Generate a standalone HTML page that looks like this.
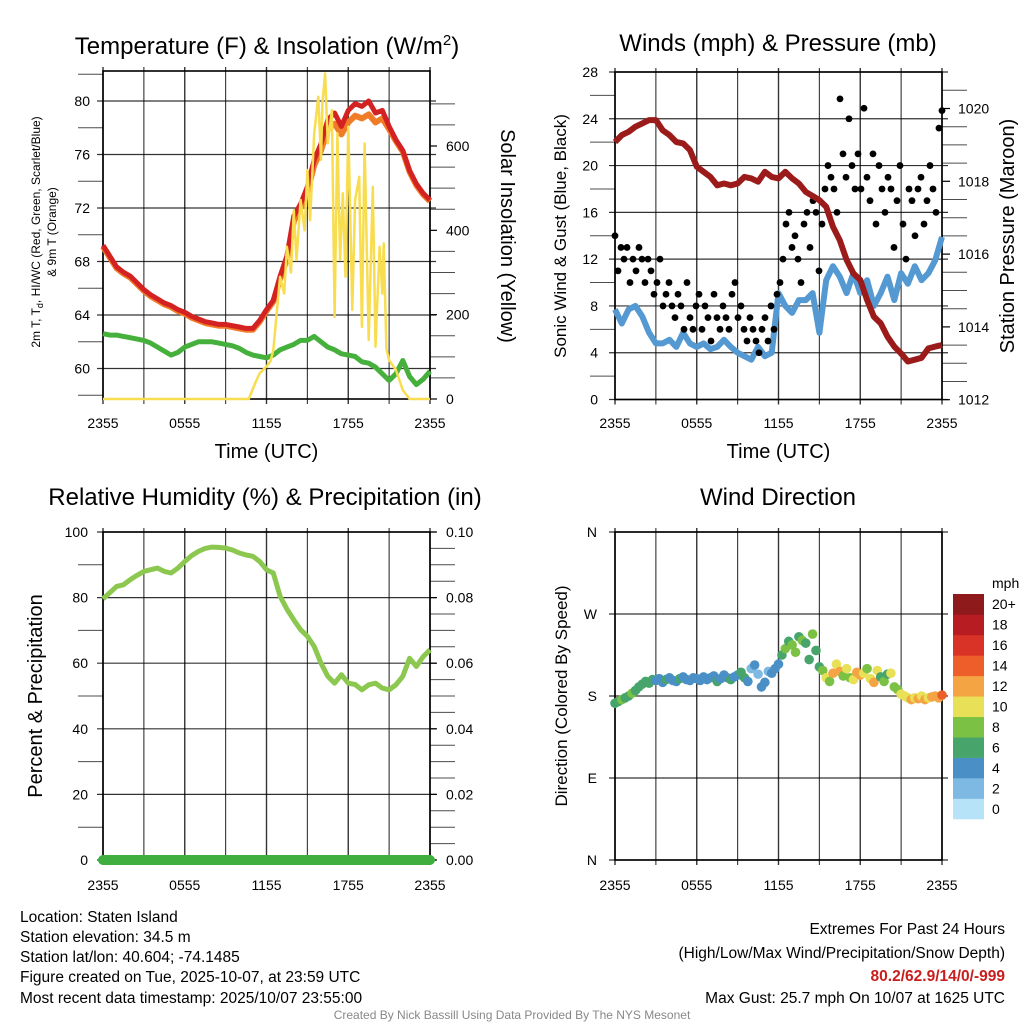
<!DOCTYPE html>
<html><head><meta charset="utf-8"><style>
html,body{margin:0;padding:0;background:#fff;}
svg{display:block;font-family:"Liberation Sans",Arial,sans-serif;}
</style></head><body>
<svg id="fig" width="1024" height="1024" viewBox="0 0 1024 1024">
<g id="g1"></g>
<g id="g2"></g>
<g id="g3"></g>
<g id="g4"></g>
<g font-size="15.5" fill="#000">
<text x="20" y="922">Location: Staten Island</text>
<text x="20" y="942">Station elevation: 34.5 m</text>
<text x="20" y="962">Station lat/lon: 40.604; -74.1485</text>
<text x="20" y="982">Figure created on Tue, 2025-10-07, at 23:59 UTC</text>
<text x="20" y="1003">Most recent data timestamp: 2025/10/07 23:55:00</text>
<text x="1005" y="934" text-anchor="end">Extremes For Past 24 Hours</text>
<text x="1005" y="958" text-anchor="end">(High/Low/Max Wind/Precipitation/Snow Depth)</text>
<text x="1005" y="981" text-anchor="end" fill="#c81e1e" font-weight="bold">80.2/62.9/14/0/-999</text>
<text x="1005" y="1003" text-anchor="end">Max Gust: 25.7 mph On 10/07 at 1625 UTC</text>
<text x="512" y="1019" text-anchor="middle" font-size="12" fill="#888">Created By Nick Bassill Using Data Provided By The NYS Mesonet</text>
</g>
</svg>
<script>
// ---- data ----
const xTickLabels = ["2355","0555","1155","1755","2355"];
const tempRed = [69.2,68.4,67.6,67.2,66.9,66.4,65.9,65.5,65.2,64.9,64.7,64.4,64.2,63.9,63.7,63.5,63.4,63.3,63.3,63.2,63.1,63.0,63.0,63.6,64.4,65.1,66.9,68.4,71.4,72.3,73.6,75.6,76.8,78.6,79.1,78.1,79.3,79.8,79.6,80.0,79.1,79.3,78.1,77.1,76.3,74.8,73.8,73.1,72.6];
const temp9m = [69.1,68.3,67.5,67.1,66.8,66.3,65.8,65.4,65.1,64.8,64.6,64.3,64.1,63.8,63.6,63.4,63.3,63.2,63.2,63.1,63.0,62.9,62.9,63.5,64.3,65.0,66.7,68.2,71.0,72.0,73.2,75.2,76.3,77.9,78.3,77.5,78.4,78.9,78.7,79.0,78.4,78.7,77.9,77.0,76.2,74.7,73.7,73.0,72.5];
const dewPt = [62.6,62.5,62.5,62.4,62.3,62.2,62.1,61.9,61.6,61.3,61.0,61.2,61.6,61.8,62.0,62.0,62.0,61.9,61.8,61.7,61.5,61.2,61.0,60.9,60.8,61.0,61.4,61.6,61.8,62.1,62.1,62.4,62.0,61.6,61.4,61.1,61.0,60.9,60.5,60.4,60.1,59.6,59.1,59.6,60.6,59.4,58.8,59.2,59.8];
const solarHours = [0,10.7,11.2,11.5,12,12.3,12.5,13,13.3,13.5,13.8,14,14.2,14.5,14.8,15,15.2,15.5,15.8,16,16.1,16.3,16.5,16.8,17,17.2,17.4,17.6,17.8,18,18.3,18.5,18.8,19,19.2,19.5,19.8,20,20.3,20.5,20.6,20.8,21,21.5,22,22.5,24];
const solarVals = [0,0,40,61,77,90,116,290,250,361,300,448,330,472,400,543,424,630,717,567,700,772,606,685,195,630,330,488,290,646,211,472,527,171,606,140,503,124,361,250,369,120,92,69,21,0,0];
const tempTicks = [60,64,68,72,76,80];
const solarTicks = [0,200,400,600];
const windSpd = [7.7,6.5,7.7,8.0,7.1,5.7,4.8,4.8,5.1,4.5,5.7,4.8,4.5,4.8,4.3,4.5,5.1,4.5,4.0,3.7,3.4,4.5,3.7,4.0,9.1,8.0,7.4,8.5,8.5,9.1,5.7,10.2,11.4,10.5,9.1,10.8,9.1,10.2,8.0,9.1,10.5,8.5,10.8,9.9,11.4,10.2,10.8,11.9,13.9];
const gustVals = [14,11,13,12,13,10,12,11,13,12,10, 12,11,9,10,12,8,9,10,8, 7,9,8,6,10,7,6,8,9, 6,8,7,5,9,7,6,8,7, 6,9,10,7,8,6,5,7,6, 5,4,6,7,5,8,6,9,10, 12,15,16,13,14,12,10,15,16, 13,17,16,11,15,18,20,19,18, 16,25.7,21,19,24,20,18,21,18, 24.9,19,17,21,15,20,18,16,19, 18,13,17,20,15,12,18,17,14, 18,19,15,17,20,18,16,23.2,24.7];
const pressure = [1019.08,1019.27,1019.36,1019.5,1019.59,1019.68,1019.68,1019.4,1019.27,1019.08,1019.04,1018.86,1018.4,1018.26,1018.12,1017.89,1017.94,1017.89,1017.94,1018.12,1018.08,1017.99,1018.26,1018.12,1018.08,1018.26,1018.08,1017.94,1017.71,1017.6,1017.48,1017.3,1016.75,1016.38,1015.84,1015.47,1015.29,1014.74,1014.28,1014.1,1013.73,1013.46,1013.27,1013.05,1013.1,1013.15,1013.41,1013.46,1013.5];
const windTicks = [0,4,8,12,16,20,24,28];
const presTicks = [1012,1014,1016,1018,1020];
const rhVals = [79.6,81.5,83.4,83.9,85.5,86.8,88,88.5,89,88,87.5,89,91,92.8,94.1,95,95.4,95.3,95.1,94.5,93.6,93,92.6,91,88.5,87.5,80.4,76.5,73.2,70.2,68.2,65.1,60,56,53.9,56.5,53.9,53.5,51.9,53.4,53.9,52.4,51.9,53.4,56,61.5,59,62,64.1];
const precipVals = [0,0,0,0,0,0,0,0,0,0,0,0,0,0,0,0,0,0,0,0,0,0,0,0,0,0,0,0,0,0,0,0,0,0,0,0,0,0,0,0,0,0,0,0,0,0,0,0,0];
const rhTicks = [0,20,40,60,80,100];
const precipTicks = ["0.00","0.02","0.04","0.06","0.08","0.10"];
const dirDeg = [172,174,176,178,180,183,186,190,193,196,194,198, 197,199,195,198,200,197,196,199,201,198,197,200, 199,197,201,198,200,202,196,199,203,200,198,201, 203,206,200,196,210,214,204,190,195,207,205,210, 215,225,232,240,236,228,245,241,238,220,248,230, 212,208,200,196,205,215,207,202,210,200,198,206, 203,205,210,199,195,208,201,196,204,205,190,187, 182,180,178,176,178,177,180,176,178,179,180,178,181];
const dirSpd = [7,7,8,7,7,8,7,6,7,6,7,6, 5,4,5,6,4,5,5,6,4,5,4,5, 4,5,4,4,5,4,6,4,4,5,6,4, 4,6,6,4,3,4,3,4,4,3,4,5, 4,7,8,6,8,9,7,8,6,7,8,6, 6,9,11,9,12,10,13,9,11,8,10,12, 13,10,9,11,13,10,6,9,7,10,8,9, 10,11,10,12,11,13,10,12,11,12,13,12,14];
const dirTicks = ["N","E","S","W","N"];
const cbLabels = ["0","2","4","6","8","10","12","14","16","18","20+"];
const cbColors = ["#b7e3f8","#7db9e3","#4a8fc6","#47a56b","#7bc143","#e8e057","#f5a443","#ee5e2b","#d93328","#b71c23","#8e1a1b"];

// ---- helpers ----
const NS="http://www.w3.org/2000/svg";
function mk(parent,tag,attrs,txt){const e=document.createElementNS(NS,tag);for(const k in attrs)e.setAttribute(k,attrs[k]);if(txt!==undefined)e.textContent=txt;parent.appendChild(e);return e;}
function linX(x0,x1){return h=>x0+(x1-x0)*h/24;}
function linY(v0,v1,y0,y1){return v=>y0+(v-v0)*(y1-y0)/(v1-v0);}
function pathFrom(xs,ys){return xs.map((x,i)=>(i?"L":"M")+x.toFixed(1)+","+ys[i].toFixed(1)).join("");}
function stepHours(n){const a=[];for(let i=0;i<n;i++)a.push(24*i/(n-1));return a;}

function frame(g,x0,x1,y0,y1,hLinesY,name){
  for(let k=0;k<=8;k++){
    const x=x0+(x1-x0)*k/8;
    const l=mk(g,"line",{x1:x,y1:y0-4,x2:x,y2:y1+5,stroke:"#000","stroke-width":(k%2?1.1:1.4),"stroke-opacity":0.8});
    
    
  }
  hLinesY.forEach(y=>{
    const l=mk(g,"line",{x1:x0-6,y1:y,x2:x1+6,y2:y,stroke:"#000","stroke-width":1.2,"stroke-opacity":0.8});
    
    
  });
  const r=mk(g,"rect",{x:x0,y:y0,width:x1-x0,height:y1-y0,fill:"none",stroke:"#000","stroke-width":1.6});
  
  
}
function xLabels(g,x0,x1,y,withTitle){
  xTickLabels.forEach((t,i)=>{
    const e=mk(g,"text",{x:x0+(x1-x0)*i/4,y:y,"text-anchor":"middle","font-size":14},t);
    
    
  });
  if(withTitle){
    const e=mk(g,"text",{x:(x0+x1)/2,y:y+30,"text-anchor":"middle","font-size":20},"Time (UTC)");
    
    
  }
}
function minorTicks(g,x,ys,dir){
  ys.forEach(y=>{
    const l=mk(g,"line",{x1:x,y1:y,x2:x+dir*5,y2:y,stroke:"#000","stroke-width":1,"stroke-opacity":0.7});
    
    
  });
}
function yLabel(g,x,y,txt,anchor,size,name){
  const e=mk(g,"text",{x:x,y:y,"text-anchor":anchor,"font-size":size||14},txt);
  
  
  return e;
}
function vText(g,x,y,txt,size,rot,name){
  const e=mk(g,"text",{x:0,y:0,"text-anchor":"middle","font-size":size,transform:`translate(${x},${y}) rotate(${rot})`},txt);
  
  
  return e;
}
function title(g,x,y,txt,name){
  const e=mk(g,"text",{x:x,y:y,"text-anchor":"middle","font-size":24},txt);
  
  
  return e;
}

// ---- Panel 1 ----
(function(){
  const g=document.getElementById("g1");
  const X=linX(103,430), Yt=linY(60,80,368.5,101), Ys=linY(0,600,399,146);
  frame(g,103,430,71,399,tempTicks.map(Yt),"temperature");
  const t1=title(g,267,54,"Temperature (F) & Insolation (W/m","temperature-title");
  const sup=mk(t1,"tspan",{dy:-9,"font-size":15},"2");
  
  
  const cl=mk(t1,"tspan",{dy:9},")");
  
  
  tempTicks.forEach(v=>yLabel(g,90,Yt(v)+5,String(v),"end",14,"temp-tick-label"));
  solarTicks.forEach(v=>{
    yLabel(g,446,Ys(v)+5,String(v),"start",14,"solar-tick-label");
    const l=mk(g,"line",{x1:430,y1:Ys(v),x2:437,y2:Ys(v),stroke:"#000","stroke-width":1.2});
    
    
  });
  minorTicks(g,103,[58,62,66,70,74,78,82].map(Yt),-5);
  const sm=[];for(let v=50;v<=700;v+=50)if(v%200)sm.push(Ys(v));minorTicks(g,430,sm,5);
  xLabels(g,103,430,428,true);
  const a=vText(g,40,232,"",12,-90,"temp-y-axis-title");
  a.innerHTML='2m T, T<tspan dy="3" font-size="9">d</tspan><tspan dy="-3">, HI/WC (Red, Green, Scarlet/Blue)</tspan>';
  vText(g,56,232,"& 9m T (Orange)",12,-90,"temp-y-axis-title-line2");
  vText(g,501,236,"Solar Insolation (Yellow)",20,90,"solar-y-axis-title");
  const H=stepHours(tempRed.length);
  let p=mk(g,"path",{d:pathFrom(H.map(X),temp9m.map(Yt)),fill:"none",stroke:"#f07c28","stroke-width":6,"stroke-linejoin":"round"});
  
  
  p=mk(g,"path",{d:pathFrom(H.map(X),tempRed.map(Yt)),fill:"none",stroke:"#d42222","stroke-width":5,"stroke-linejoin":"round"});
  
  
  p=mk(g,"path",{d:pathFrom(H.map(X),dewPt.map(Yt)),fill:"none",stroke:"#46b03c","stroke-width":5,"stroke-linejoin":"round"});
  
  
  p=mk(g,"path",{d:pathFrom(solarHours.map(X),solarVals.map(Ys)),fill:"none",stroke:"#f8dd50","stroke-width":2.5,"stroke-linejoin":"round"});
  
  
})();

// ---- Panel 2 ----
(function(){
  const g=document.getElementById("g2");
  const X=linX(615,942), Yw=linY(0,28,399.5,72), Yp=linY(1012,1020,399.7,108.5);
  frame(g,615,942,72,399.5,windTicks.map(Yw),"winds");
  title(g,778,51,"Winds (mph) & Pressure (mb)","winds-title");
  windTicks.forEach(v=>yLabel(g,598,Yw(v)+5,String(v),"end",14,"wind-tick-label"));
  presTicks.forEach(v=>{
    yLabel(g,958,Yp(v)+5,String(v),"start",14,"pressure-tick-label");
    const l=mk(g,"line",{x1:942,y1:Yp(v),x2:950,y2:Yp(v),stroke:"#000","stroke-width":1.2});
    
    
  });
  minorTicks(g,615,[2,6,10,14,18,22,26].map(Yw),-5);
  const pm=[];for(let v=1012.5;v<1021;v+=0.5)if(v%2)pm.push(Yp(v));minorTicks(g,942,pm,5);
  xLabels(g,615,942,428,true);
  vText(g,566,236,"Sonic Wind & Gust (Blue, Black)",17,-90,"wind-y-axis-title");
  vText(g,1014,236,"Station Pressure (Maroon)",20,-90,"pressure-y-axis-title");
  const H=stepHours(windSpd.length);
  let p=mk(g,"path",{d:pathFrom(H.map(X),windSpd.map(Yw)),fill:"none",stroke:"#5599d2","stroke-width":6,"stroke-linejoin":"round"});
  
  
  const GH=stepHours(gustVals.length);
  gustVals.forEach((v,i)=>{
    const c=mk(g,"circle",{cx:X(GH[i]),cy:Yw(v),r:3.4,fill:"#000"});
    
    
  });
  const PH=stepHours(pressure.length);
  p=mk(g,"path",{d:pathFrom(PH.map(X),pressure.map(Yp)),fill:"none",stroke:"#9b1b1b","stroke-width":6,"stroke-linejoin":"round"});
  
  
})();

// ---- Panel 3 ----
(function(){
  const g=document.getElementById("g3");
  const X=linX(103,430), Yr=linY(0,100,860,532), Yq=linY(0,0.10,860,532);
  frame(g,103,430,532,860,rhTicks.map(Yr),"humidity");
  title(g,265,505,"Relative Humidity (%) & Precipitation (in)","humidity-title");
  rhTicks.forEach(v=>yLabel(g,88,Yr(v)+5,String(v),"end",14,"rh-tick-label"));
  precipTicks.forEach(t=>{
    const v=parseFloat(t);
    yLabel(g,446,Yq(v)+5,t,"start",14,"precip-tick-label");
    const l=mk(g,"line",{x1:430,y1:Yq(v),x2:437,y2:Yq(v),stroke:"#000","stroke-width":1.2});
    
    
  });
  minorTicks(g,103,[10,30,50,70,90].map(Yr),-5);
  const qm=[];for(let v=0.005;v<0.1;v+=0.005){if(Math.round(v*1000)%20)qm.push(Yq(v));}minorTicks(g,430,qm,5);
  xLabels(g,103,430,890,false);
  vText(g,42,696,"Percent & Precipitation",20,-90,"rh-y-axis-title");
  const H=stepHours(rhVals.length);
  let p=mk(g,"path",{d:pathFrom(H.map(X),rhVals.map(Yr)),fill:"none",stroke:"#8cc850","stroke-width":5,"stroke-linejoin":"round"});
  
  
  const QH=stepHours(precipVals.length);
  p=mk(g,"path",{d:pathFrom(QH.map(X),precipVals.map(Yq)),fill:"none",stroke:"#3fae3f","stroke-width":10,"stroke-linecap":"round"});
  
  
})();

// ---- Panel 4 ----
(function(){
  const g=document.getElementById("g4");
  const X=linX(615,942), Yd=linY(0,360,860,532);
  frame(g,615,942,532,860,[0,90,180,270,360].map(Yd),"direction");
  title(g,778,505,"Wind Direction","direction-title");
  dirTicks.forEach((t,i)=>yLabel(g,597,Yd(i*90)+5,t,"end",14,"direction-tick-label"));
  xLabels(g,615,942,890,false);
  vText(g,567,696,"Direction (Colored By Speed)",17,-90,"direction-y-axis-title");
  const H=stepHours(dirDeg.length);
  dirDeg.forEach((d,i)=>{
    const idx=Math.min(10,Math.floor(dirSpd[i]/2));
    const c=mk(g,"circle",{cx:X(H[i]),cy:Yd(d),r:4.8,fill:cbColors[idx]});
    
    
  });
  const cbTop=594, cbH=225/11;
  cbColors.forEach((col,i)=>{
    const y=cbTop+(10-i)*cbH;
    const r=mk(g,"rect",{x:953,y:y,width:31,height:cbH+0.3,fill:col});
    
    
    yLabel(g,992,y+cbH/2+5,cbLabels[i],"start",14,"colorbar-label");
  });
  yLabel(g,992,588,"mph","start",14,"colorbar-title");
})();
</script>
</body></html>
